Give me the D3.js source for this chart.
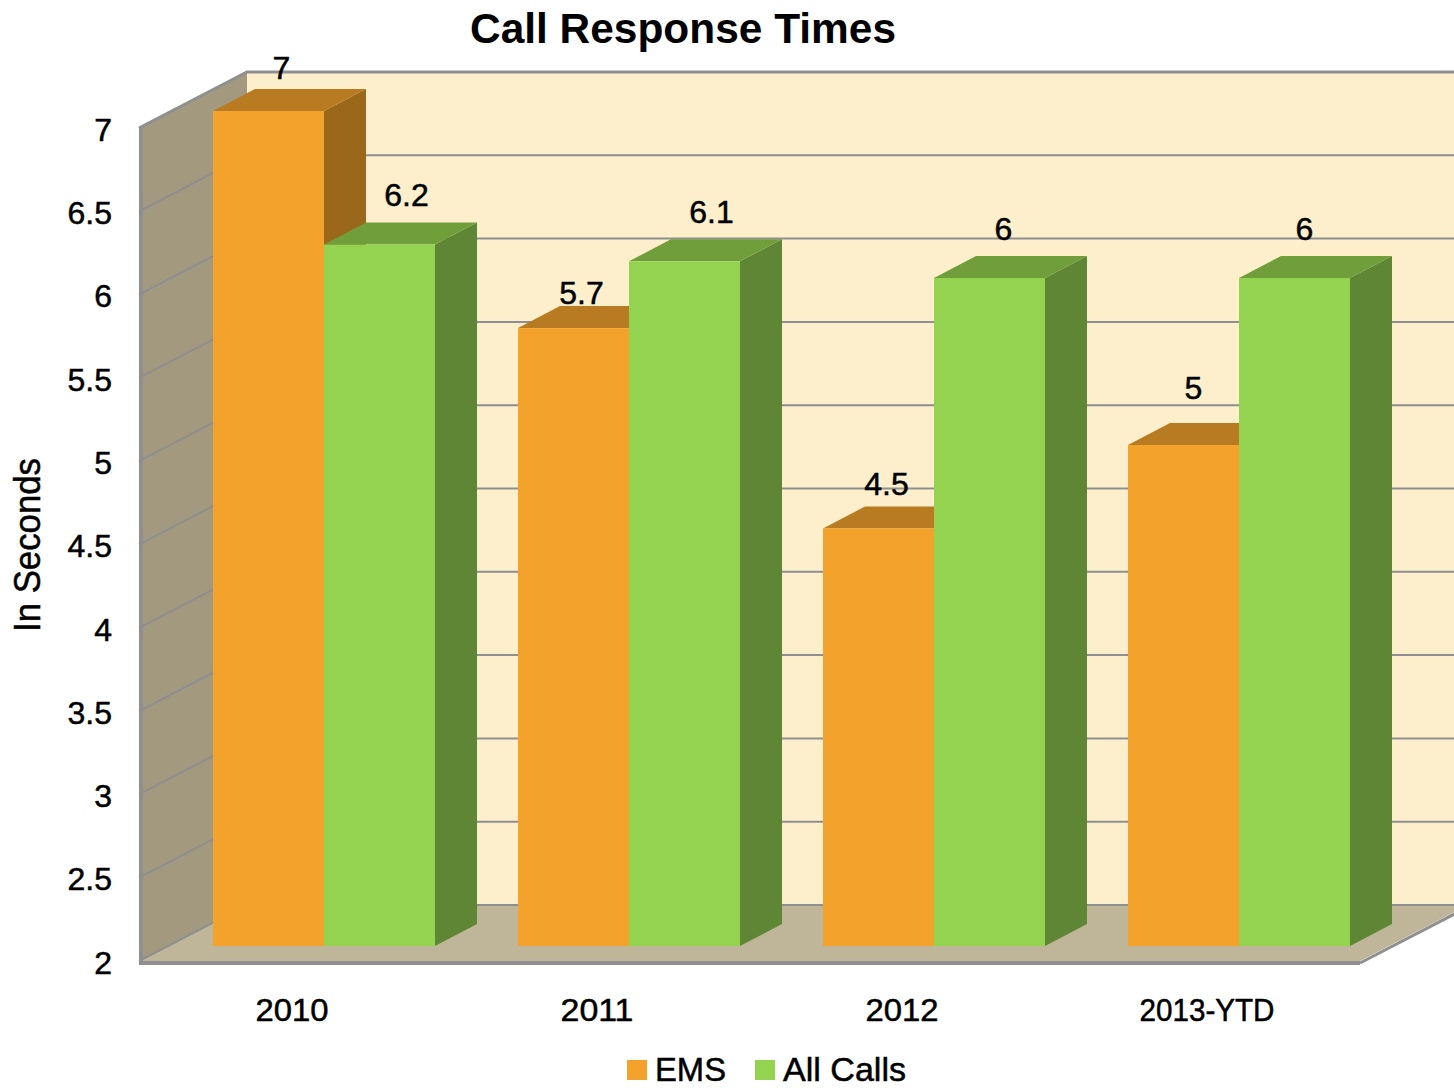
<!DOCTYPE html>
<html>
<head>
<meta charset="utf-8">
<script src="https://cdn.jsdelivr.net/npm/d3@7"></script>
<style>
html,body{margin:0;padding:0;background:#fff;overflow:hidden}
svg{display:block}
text{font-family:"Liberation Sans",sans-serif;fill:#000}
</style>
</head>
<body>
<div id="chart"></div>
<script>
const categories = ["2010", "2011", "2012", "2013-YTD"];
const seriesNames = ["EMS", "All Calls"];
const emsValues = [7, 5.7, 4.5, 5];
const allCallsValues = [6.2, 6.1, 6, 6];
const yTicks = [2, 2.5, 3, 3.5, 4, 4.5, 5, 5.5, 6, 6.5, 7];
const titleText = "Call Response Times";
const yAxisTitle = "In Seconds";

const W = 1454, H = 1088;
const colors = {
  "EMS": {face: "#F3A32C", top: "#B87B22", side: "#9A671B"},
  "All Calls": {face: "#94D350", top: "#6F9E3A", side: "#5F8634"}
};
const wallDx = 108, wallDy = 56, barDx = 42, barDy = 22;
const grey = "#8F8F8F";

const x0 = d3.scaleBand().domain(categories).range([139, 1359]);
const x1 = d3.scaleBand().domain(seriesNames).range([74, 74 + 222]);
const yFront = d3.scaleLinear().domain([2, 7]).range([961, 128]);
const yBar = d3.scaleLinear().domain([2, 7]).range([946, 111]);

const svg = d3.select("#chart").append("svg").attr("width", W).attr("height", H);
const poly = (g, pts, fill) => g.append("polygon").attr("points", pts.map(p => p.join(",")).join(" ")).attr("fill", fill);

// walls
const walls = svg.append("g");
const xL = x0.range()[0], xR = x0.range()[1] + 1, yB = yFront(2), yT = yFront(7);
poly(walls, [[xL + wallDx, yT - wallDy], [W + 40, yT - wallDy], [W + 40, yB - wallDy], [xL + wallDx, yB - wallDy]], "#FDEFCB");
poly(walls, [[xL, yB], [xL + wallDx, yB - wallDy], [xR + wallDx, yB - wallDy], [xR, yB]], "#BFB699");
poly(walls, [[xL, yT], [xL + wallDx, yT - wallDy], [xL + wallDx, yB - wallDy], [xL, yB]], "#A2997F");

// gridlines
const grid = svg.append("g").attr("fill", "none");
yTicks.forEach(t => {
  const y = yFront(t);
  grid.append("polyline")
    .attr("points", `${xL},${y} ${xL + wallDx},${y - wallDy} ${W + 40},${y - wallDy}`)
    .attr("stroke", grey).attr("stroke-width", t === 7 ? 3 : 2);
});
// frame
const frame = svg.append("g").attr("fill", "none").attr("stroke", grey).attr("stroke-width", 4);
frame.append("line").attr("x1", xL + 2).attr("x2", xL + 2).attr("y1", yT).attr("y2", yB + 2);
frame.append("polyline").attr("points", `${xL},${yB + 2} ${xR},${yB + 2}`);
frame.append("line").attr("x1", xR).attr("y1", yB + 2).attr("x2", xR + wallDx).attr("y2", yB + 2 - wallDy).attr("stroke-width", 3);

// bars
const bars = svg.append("g");
categories.forEach((c, i) => {
  [emsValues[i], allCallsValues[i]].forEach((v, j) => {
    const s = seriesNames[j];
    const l = x0(c) + x1(s), r = l + x1.bandwidth();
    const t = yBar(v), b = yBar(2);
    poly(bars, [[r, t], [r + barDx, t - barDy], [r + barDx, b - barDy], [r, b]], colors[s].side);
    poly(bars, [[l, t], [l + barDx, t - barDy], [r + barDx, t - barDy], [r, t]], colors[s].top);
    bars.append("rect").attr("x", l).attr("y", t).attr("width", x1.bandwidth()).attr("height", b - t).attr("fill", colors[s].face);
  });
});

// axes
const fontSize = 32;
const heavy = sel => sel.style("stroke", "#000").style("stroke-width", "0.5px");
const yAxis = d3.axisLeft(yFront).tickValues(yTicks).tickFormat(d => d).tickSize(0).tickPadding(27);
svg.append("g").attr("transform", `translate(${xL},2)`).call(yAxis)
  .call(g => g.select(".domain").remove())
  .selectAll("text").style("font-family", '"Liberation Sans",sans-serif').style("font-size", fontSize + "px").call(heavy);
const xAxis = d3.axisBottom(x0).tickSize(0).tickPadding(0);
svg.append("g").attr("transform", `translate(0.5,998)`).call(xAxis)
  .call(g => g.select(".domain").remove())
  .selectAll("text").style("font-family", '"Liberation Sans",sans-serif').style("font-size", fontSize + "px")
  .attr("textLength", d => d.length > 4 ? 135 : 73).attr("lengthAdjust", "spacingAndGlyphs").call(heavy);

// data labels
const labelShift = {EMS: [[13, -44], [8, -36], [8, -45], [10, -58]], "All Calls": [[27, -50], [27, -50], [14, -50], [10, -50]]};
const labels = svg.append("g").attr("text-anchor", "middle").style("font-size", fontSize + "px").call(heavy);
categories.forEach((c, i) => {
  [emsValues[i], allCallsValues[i]].forEach((v, j) => {
    const s = seriesNames[j], sh = labelShift[s][i];
    labels.append("text").attr("x", x0(c) + x1(s) + x1.bandwidth() / 2 + sh[0]).attr("y", yBar(v) + sh[1])
      .attr("dy", "0.36em").text(v);
  });
});

// titles
svg.append("text").attr("x", 683).attr("y", 43).attr("text-anchor", "middle")
  .attr("textLength", 426).attr("lengthAdjust", "spacingAndGlyphs")
  .style("font-size", "43px").style("font-weight", "bold").text(titleText);
svg.append("text").attr("transform", "translate(40,545) rotate(-90)").attr("text-anchor", "middle")
  .attr("textLength", 174).attr("lengthAdjust", "spacingAndGlyphs")
  .style("font-size", "36px").call(heavy).text(yAxisTitle);

// legend
const legendX = {"EMS": 627, "All Calls": 755};
const legendW = {"EMS": 71, "All Calls": 123};
seriesNames.forEach(s => {
  svg.append("rect").attr("x", legendX[s]).attr("y", 1060).attr("width", 20).attr("height", 20).attr("fill", colors[s].face);
  svg.append("text").attr("x", legendX[s] + 28).attr("y", 1081)
    .attr("textLength", legendW[s]).attr("lengthAdjust", "spacingAndGlyphs")
    .style("font-size", "34px").call(heavy).text(s);
});
</script>
</body>
</html>
